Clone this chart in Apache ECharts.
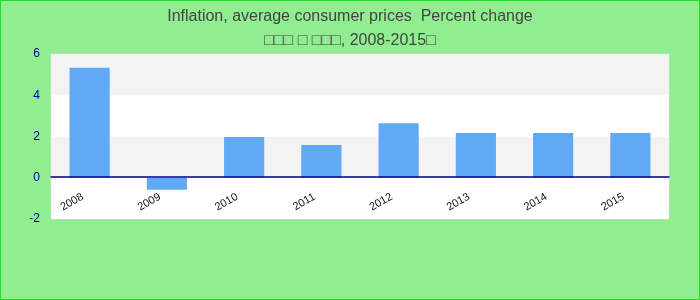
<!DOCTYPE html>
<html><head><meta charset="utf-8">
<script src="https://cdn.jsdelivr.net/npm/echarts@6/dist/echarts.min.js"></script>
<style>html,body{margin:0;padding:0;}#c{width:698px;height:298px;border:1px solid #22dd22;background:#90ee90;}</style>
</head><body><div id="c"></div>
<script>
const categories = ['2008','2009','2010','2011','2012','2013','2014','2015'];
const values = [5.33, -0.58, 1.98, 1.59, 2.64, 2.17, 2.17, 2.17];
const titleText = 'Inflation, average consumer prices  Percent change';
const subtitleText = '□□□ □ □□□, 2008-2015□';
const chart = echarts.init(document.getElementById('c'));
chart.setOption({
  backgroundColor: '#90ee90',
  animation: false,
  title: {
    text: titleText, subtext: subtitleText, left: 'center', top: 3, itemGap: 8,
    textStyle: {fontFamily: 'Liberation Sans, Arial', fontSize: 16, fontWeight: 'normal', color: '#444'},
    subtextStyle: {fontFamily: 'Liberation Sans, Arial', fontSize: 16, color: '#444'}
  },
  grid: {left: 50, right: 30, top: 53, bottom: 80, show: true, borderColor: '#d8d8d8', borderWidth: 1, backgroundColor: '#fff'},
  xAxis: {
    type: 'category', data: categories,
    offset: -42, z: 5,
    axisLine: {onZero: false, lineStyle: {color: '#00008b', width: 1.5}},
    axisTick: {show: false},
    axisLabel: {rotate: 30, color: '#111', fontSize: 11, fontFamily: 'Liberation Sans, Arial', margin: 15, padding: [0, 8, 0, 0]}
  },
  yAxis: {
    type: 'value', min: -2, max: 6, interval: 2,
    axisLabel: {color: '#00008b', fontSize: 12, fontFamily: 'Liberation Sans, Arial', margin: 11},
    axisLine: {show: false}, axisTick: {show: false},
    splitLine: {show: false},
    splitArea: {show: true, areaStyle: {color: ['#ffffff', '#f3f3f3']}}
  },
  series: [{type: 'bar', data: values, barWidth: '52%', itemStyle: {color: '#62a9f5'}}]
});
</script></body></html>
